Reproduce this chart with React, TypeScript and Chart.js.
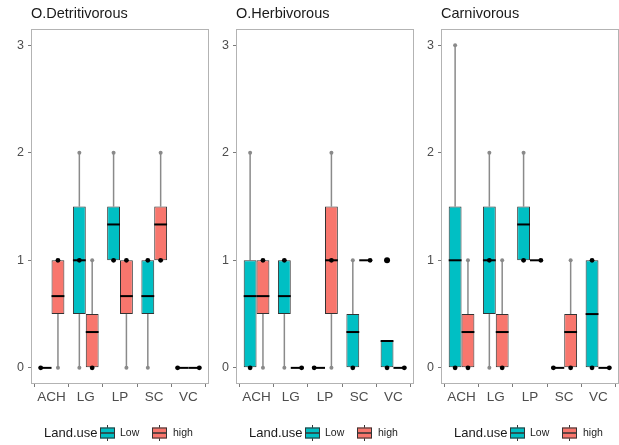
import React, { useEffect, useRef } from 'react';
import { Chart, registerables } from 'chart.js';

Chart.register(...registerables);

// ---------- data ----------
const categories = ['ACH', 'LG', 'LP', 'SC', 'VC'];
const groupNames = ['Low', 'high'];
const legendTitle = 'Land.use';
const yTickValues = [0, 1, 2, 3];
const panelTitles = ['O.Detritivorous', 'O.Herbivorous', 'Carnivorous'];

// five-number summaries per category: [min, q1, median, q3, max]
const detritLow = [[0, 0, 0, 0, 0], [0, 0.5, 1, 1.5, 2], [1, 1, 1.333, 1.5, 2], [0, 0.5, 0.667, 1, 1], [0, 0, 0, 0, 0]];
const detritHigh = [[0, 0.5, 0.667, 1, 1], [0, 0, 0.333, 0.5, 1], [0, 0.5, 0.667, 1, 1], [1, 1, 1.333, 1.5, 2], [0, 0, 0, 0, 0]];
const herbLow = [[0, 0, 0.667, 1, 2], [0, 0.5, 0.667, 1, 1], [0, 0, 0, 0, 0], [0, 0, 0.333, 0.5, 1], [0, 0, 0.25, 0.25, 0.25]];
const herbHigh = [[0, 0.5, 0.667, 1, 1], [0, 0, 0, 0, 0], [0, 0.5, 1, 1.5, 2], [1, 1, 1, 1, 1], [0, 0, 0, 0, 0]];
const carnLow = [[0, 0, 1, 1.5, 3], [0, 0.5, 1, 1.5, 2], [1, 1, 1.333, 1.5, 2], [0, 0, 0, 0, 0], [0, 0, 0.5, 1, 1]];
const carnHigh = [[0, 0, 0.333, 0.5, 1], [0, 0, 0.333, 0.5, 1], [1, 1, 1, 1, 1], [0, 0, 0.333, 0.5, 1], [0, 0, 0, 0, 0]];

// observed points drawn on the boxes
const detritLowPts = [[0], [1], [1], [1], [0]];
const detritHighPts = [[1], [0], [1], [1], [0]];
const herbLowPts = [[0], [1], [0], [0], [0]];
const herbHighPts = [[1], [0], [1], [1], [0]];
const carnLowPts = [[0], [1], [1], [0], [0, 1]];
const carnHighPts = [[0], [0], [1], [0], [0]];

// outliers
const detritLowOut = [[], [], [], [], []];
const detritHighOut = [[], [], [], [], []];
const herbLowOut = [[], [], [], [], [1]];
const herbHighOut = [[], [], [], [], []];
const carnLowOut = [[], [], [], [], []];
const carnHighOut = [[], [], [], [], []];

// ---------- styles ----------
const LOW_COLOR = '#00BFC4';
const HIGH_COLOR = '#F8766D';
const WHISKER = '#8a8a8a';
const FONT = '"Liberation Sans", Arial, Helvetica, sans-serif';
const AXIS_TEXT = '#4d4d4d';

const panels = [
  { title: panelTitles[0], stats: [detritLow, detritHigh], pts: [detritLowPts, detritHighPts], out: [detritLowOut, detritHighOut], left: 0 },
  { title: panelTitles[1], stats: [herbLow, herbHigh], pts: [herbLowPts, herbHighPts], out: [herbLowOut, herbHighOut], left: 205 },
  { title: panelTitles[2], stats: [carnLow, carnHigh], pts: [carnLowPts, carnHighPts], out: [carnLowOut, carnHighOut], left: 410 },
];

const dot = (ctx: CanvasRenderingContext2D, x: number, y: number, r: number, color: string) => {
  ctx.beginPath();
  ctx.arc(x, y, r, 0, Math.PI * 2);
  ctx.fillStyle = color;
  ctx.fill();
};

const line = (ctx: CanvasRenderingContext2D, x1: number, y1: number, x2: number, y2: number) => {
  ctx.beginPath();
  ctx.moveTo(x1, y1);
  ctx.lineTo(x2, y2);
  ctx.stroke();
};

const drawKey = (ctx: CanvasRenderingContext2D, x: number, cy: number, color: string) => {
  const w = 15;
  const h = 11;
  ctx.save();
  ctx.strokeStyle = '#333';
  ctx.lineWidth = 1;
  line(ctx, x + w / 2, cy - 8, x + w / 2, cy + 8);
  ctx.fillStyle = color;
  ctx.fillRect(x, cy - h / 2, w, h);
  ctx.strokeRect(x + 0.5, cy - h / 2 + 0.5, w - 1, h - 1);
  ctx.lineWidth = 1.5;
  line(ctx, x, cy, x + w, cy);
  ctx.restore();
};

const boxPlugin = {
  id: 'boxExtras',
  beforeDatasetsDraw(chart: any) {
    const ctx = chart.ctx;
    const ys = chart.scales.y;
    chart.data.datasets.forEach((ds: any, di: number) => {
      const meta = chart.getDatasetMeta(di);
      ds.stats.forEach((s: number[], i: number) => {
        const el = meta.data[i];
        if (!el) return;
        const x = el.x;
        const [mn, q1, , q3, mx] = s;
        ctx.save();
        ctx.strokeStyle = WHISKER;
        ctx.lineWidth = 1.5;
        if (mx > q3) {
          line(ctx, x, ys.getPixelForValue(q3), x, ys.getPixelForValue(mx));
          dot(ctx, x, ys.getPixelForValue(mx), 2, WHISKER);
        }
        if (mn < q1) {
          line(ctx, x, ys.getPixelForValue(q1), x, ys.getPixelForValue(mn));
          dot(ctx, x, ys.getPixelForValue(mn), 2, WHISKER);
        }
        ctx.restore();
      });
    });
  },
  afterDatasetsDraw(chart: any) {
    const ctx = chart.ctx;
    const ys = chart.scales.y;
    chart.data.datasets.forEach((ds: any, di: number) => {
      const meta = chart.getDatasetMeta(di);
      ds.stats.forEach((s: number[], i: number) => {
        const el = meta.data[i];
        if (!el) return;
        const x = el.x;
        const w = el.width;
        const [mn, q1, md, q3, mx] = s;
        const flat = mn === mx && q1 === q3;
        ctx.save();
        ctx.strokeStyle = '#000';
        ctx.lineWidth = 2;
        const ym = ys.getPixelForValue(md);
        line(ctx, x - w / 2, ym, x + w / 2, ym);
        const px = flat ? (di === 0 ? x - w / 2 + 2 : x + w / 2 - 2) : x;
        ds.points[i].forEach((v: number) => dot(ctx, px, ys.getPixelForValue(v), 2.4, '#000'));
        ds.outliers[i].forEach((v: number) => dot(ctx, x, ys.getPixelForValue(v), 3, '#000'));
        ctx.restore();
      });
    });
  },
  afterDraw(chart: any) {
    const ctx = chart.ctx;
    const a = chart.chartArea;
    ctx.save();
    ctx.strokeStyle = '#b3b3b3';
    ctx.lineWidth = 1;
    ctx.strokeRect(Math.round(a.left) + 0.5, Math.round(a.top) + 0.5, Math.round(a.right - a.left) - 1, Math.round(a.bottom - a.top) - 1);

    // legend
    const cy = 433;
    ctx.fillStyle = '#1a1a1a';
    ctx.textBaseline = 'middle';
    ctx.textAlign = 'left';
    ctx.font = `13px ${FONT}`;
    ctx.fillText(legendTitle, 44, cy);
    drawKey(ctx, 100, cy, LOW_COLOR);
    ctx.fillStyle = '#1a1a1a';
    ctx.font = `10.5px ${FONT}`;
    ctx.fillText(groupNames[0], 120, cy);
    drawKey(ctx, 152, cy, HIGH_COLOR);
    ctx.fillStyle = '#1a1a1a';
    ctx.font = `10.5px ${FONT}`;
    ctx.fillText(groupNames[1], 173, cy);
    ctx.restore();
  },
};

function Panel({ p }: { p: any }) {
  const ref = useRef<HTMLCanvasElement>(null);
  useEffect(() => {
    if (!ref.current) return;
    const colors = [LOW_COLOR, HIGH_COLOR];
    const chart = new Chart(ref.current, {
      type: 'bar',
      data: {
        datasets: groupNames.map((g, gi) => ({
          label: g,
          data: p.stats[gi].map((s: number[], i: number) => ({ x: i + 1, y: [s[1], s[3]] })),
          stats: p.stats[gi],
          points: p.pts[gi],
          outliers: p.out[gi],
          backgroundColor: colors[gi],
          borderColor: '#333333',
          borderWidth: 1,
          borderSkipped: false,
          categoryPercentage: 0.75,
          barPercentage: 1,
        })) as any,
      },
      options: {
        animation: false,
        responsive: false,
        devicePixelRatio: 1,
        layout: { padding: { left: 0, right: 1, top: 0, bottom: 0 } },
        plugins: {
          legend: { display: false },
          tooltip: { enabled: false },
          title: {
            display: true,
            text: p.title,
            align: 'start',
            fullSize: false,
            color: '#1a1a1a',
            font: { family: FONT, size: 14.5, weight: 'normal' },
            padding: { top: 5.5, bottom: 6.1 },
          },
        },
        scales: {
          x: {
            type: 'linear',
            min: 0.4,
            max: 5.6,
            offset: false,
            afterBuildTicks: (scale: any) => {
              scale.ticks = categories.map((_, i) => ({ value: i + 1 }));
            },
            afterFit: (scale: any) => {
              scale.height = 61;
            },
            ticks: {
              autoSkip: false,
              maxRotation: 0,
              padding: 2,
              color: AXIS_TEXT,
              font: { family: FONT, size: 13.5 },
              callback: (_v: any, i: number) => categories[i],
            },
            grid: { drawOnChartArea: false, drawTicks: true, tickLength: 3, color: '#7a7a7a' },
            border: { display: false },
          },
          y: {
            type: 'linear',
            min: -0.15,
            max: 3.15,
            afterBuildTicks: (scale: any) => {
              scale.ticks = yTickValues.map((v) => ({ value: v }));
            },
            afterFit: (scale: any) => {
              scale.width = 31;
            },
            ticks: {
              padding: 4,
              color: AXIS_TEXT,
              font: { family: FONT, size: 12.5 },
              callback: (v: any) => String(v),
            },
            grid: { drawOnChartArea: false, drawTicks: true, tickLength: 3, color: '#7a7a7a' },
            border: { display: false },
          },
        },
      } as any,
      plugins: [boxPlugin],
    });
    return () => chart.destroy();
  }, [p]);
  return (
    <canvas
      ref={ref}
      width={210}
      height={445}
      style={{ position: 'absolute', left: p.left, top: 0, width: 210, height: 445, display: 'block' }}
    />
  );
}

export default function App() {
  return (
    <div style={{ position: 'fixed', left: 0, top: 0, width: 619, height: 445, overflow: 'hidden', background: '#ffffff' }}>
      {panels.map((p, i) => (
        <Panel key={i} p={p} />
      ))}
    </div>
  );
}
